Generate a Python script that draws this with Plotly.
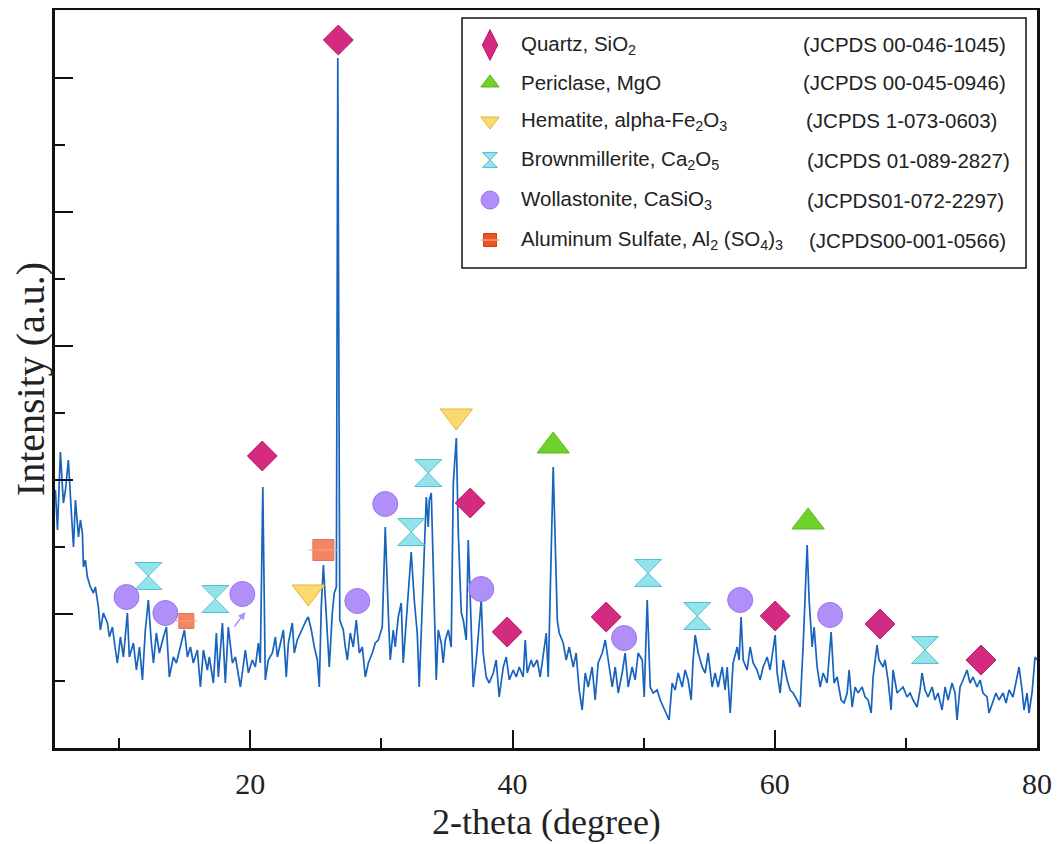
import plotly.graph_objects as go

# ---------------- data ----------------
two_theta = [5.13, 5.29, 5.51, 5.74, 5.90, 6.12, 6.35, 6.51, 6.66, 6.89, 7.04, 7.19, 7.27, 7.42, 7.57, 7.80,
             8.03, 8.18, 8.41, 8.56, 8.79, 9.10, 9.25, 9.48, 9.71, 9.86, 10.09, 10.32, 10.62, 10.77, 11.08,
             11.31, 11.54, 11.77, 11.99, 12.22, 12.45, 12.61, 12.83, 13.06, 13.37, 13.60, 13.82, 14.13, 14.36,
             14.66, 14.97, 15.20, 15.43, 15.65, 15.96, 16.19, 16.42, 16.72, 16.87, 17.18, 17.41, 17.56, 17.87,
             18.09, 18.32, 18.63, 18.86, 19.24, 19.62, 19.85, 20.15, 20.38, 20.61, 20.76, 20.95, 21.14, 21.37,
             21.68, 21.91, 22.06, 22.29, 22.52, 22.74, 22.90, 23.20, 23.35, 23.58, 23.81, 24.04, 24.27, 24.42,
             24.65, 24.88, 25.11, 25.26, 25.41, 25.57, 25.72, 25.87, 26.02, 26.25, 26.40, 26.56, 26.67, 26.82,
             27.09, 27.24, 27.40, 27.62, 27.85, 28.08, 28.31, 28.54, 28.77, 29.00, 29.30, 29.53, 29.76, 30.06,
             30.29, 30.52, 30.67, 30.90, 31.05, 31.28, 31.51, 31.66, 31.97, 32.12, 32.27, 32.50, 32.73, 32.88,
             33.11, 33.27, 33.42, 33.57, 33.65, 33.80, 33.95, 34.18, 34.33, 34.56, 34.71, 34.87, 35.10, 35.32,
             35.48, 35.71, 35.86, 36.09, 36.24, 36.47, 36.62, 36.85, 37.00, 37.23, 37.38, 37.61, 37.76, 37.99,
             38.22, 38.53, 38.75, 38.98, 39.29, 39.52, 39.75, 40.05, 40.28, 40.51, 40.81, 40.97, 41.12, 41.42,
             41.58, 41.88, 42.11, 42.34, 42.57, 42.72, 42.95, 43.10, 43.25, 43.41, 43.56, 43.86, 44.09, 44.32,
             44.63, 44.85, 45.08, 45.31, 45.54, 45.77, 46.07, 46.30, 46.53, 46.84, 47.07, 47.29, 47.60, 47.83,
             48.06, 48.36, 48.59, 48.82, 49.12, 49.35, 49.58, 49.89, 50.04, 50.27, 50.50, 50.72, 51.03, 51.26,
             51.49, 51.72, 51.94, 52.17, 52.40, 52.63, 52.94, 53.16, 53.39, 53.62, 53.77, 53.93, 54.16, 54.46,
             54.69, 54.92, 55.22, 55.45, 55.68, 55.99, 56.21, 56.37, 56.60, 56.82, 57.13, 57.28, 57.43, 57.59,
             57.89, 58.12, 58.35, 58.65, 58.88, 59.11, 59.42, 59.64, 59.87, 60.03, 60.18, 60.41, 60.64, 60.94,
             61.17, 61.40, 61.70, 61.93, 62.16, 62.31, 62.47, 62.62, 62.85, 63.00, 63.23, 63.46, 63.69, 63.99,
             64.30, 64.52, 64.75, 65.06, 65.29, 65.52, 65.67, 65.90, 66.13, 66.35, 66.66, 66.89, 67.12, 67.35,
             67.50, 67.80, 67.95, 68.26, 68.41, 68.64, 68.87, 69.02, 69.33, 69.56, 69.78, 70.09, 70.32, 70.55,
             70.85, 71.08, 71.23, 71.46, 71.69, 72.00, 72.22, 72.45, 72.76, 72.99, 73.22, 73.52, 73.75, 73.90,
             74.13, 74.36, 74.66, 74.89, 75.12, 75.43, 75.66, 75.88, 76.19, 76.34, 76.65, 76.87, 77.10, 77.41,
             77.64, 77.87, 78.17, 78.40, 78.63, 78.86, 79.01, 79.24, 79.39, 79.62, 79.85, 80.00]

intensity = [258, 218, 296, 245, 258, 288, 235, 201, 248, 211, 228, 215, 181, 188, 171, 161,
             155, 161, 141, 118, 135, 125, 111, 121, 98, 85, 111, 91, 135, 91, 105,
             78, 101, 68, 118, 148, 105, 85, 115, 95, 111, 121, 71, 91, 85,
             101, 118, 91, 101, 85, 98, 61, 98, 78, 91, 65, 115, 71, 125,
             65, 121, 85, 91, 61, 98, 75, 88, 81, 105, 85, 261, 68, 88,
             95, 111, 91, 105, 118, 71, 105, 125, 95, 108, 115, 121, 128, 131,
             118, 101, 88, 61, 141, 183, 148, 115, 81, 135, 155, 161, 690, 128,
             118, 101, 88, 115, 101, 128, 95, 101, 71, 85, 95, 105, 108, 121,
             221, 135, 88, 118, 101, 131, 145, 85, 141, 161, 196, 148, 115, 61,
             141, 215, 251, 221, 248, 255, 181, 68, 118, 105, 85, 108, 118, 101,
             265, 310, 215, 135, 128, 108, 208, 108, 61, 88, 115, 148, 95, 71,
             65, 75, 88, 51, 81, 91, 68, 78, 71, 81, 71, 108, 75, 88,
             81, 88, 71, 95, 115, 71, 215, 281, 208, 128, 115, 105, 88, 101,
             81, 95, 58, 38, 75, 61, 81, 48, 85, 95, 108, 88, 61, 81,
             55, 75, 95, 61, 81, 68, 95, 88, 51, 148, 61, 55, 58, 48,
             41, 35, 28, 65, 58, 75, 61, 78, 68, 48, 88, 113, 95, 81,
             75, 95, 61, 75, 61, 81, 58, 81, 35, 85, 101, 88, 131, 88,
             78, 101, 85, 78, 68, 81, 91, 78, 98, 113, 75, 55, 88, 68,
             58, 55, 48, 41, 101, 148, 203, 148, 101, 121, 81, 61, 75, 65,
             116, 65, 71, 48, 45, 55, 78, 41, 61, 55, 61, 51, 48, 35,
             71, 103, 88, 81, 88, 68, 38, 78, 55, 58, 61, 51, 55, 48,
             41, 58, 75, 58, 51, 61, 48, 55, 38, 61, 48, 65, 55, 28,
             61, 68, 78, 65, 71, 61, 68, 55, 51, 35, 48, 55, 48, 55,
             45, 58, 51, 68, 81, 58, 38, 55, 35, 55, 91, 88]

# phase identification markers (2-theta, intensity level of the symbol)
quartz_x = [26.71, 20.91, 36.77, 39.59, 47.14, 60.03, 68.03, 75.73]
quartz_y = [708, 292, 245, 116, 131, 132, 124, 88]
periclase_x = [43.10, 62.54]
periclase_y = [302, 226]
hematite_x = [35.71, 24.42]
hematite_y = [332, 156]
brown_x = [12.22, 17.33, 33.57, 32.27, 50.34, 54.08, 71.46]
brown_y = [172, 149, 275, 216, 175, 132, 98]
woll_x = [10.55, 13.52, 19.39, 28.16, 30.29, 37.61, 48.51, 57.36, 64.22]
woll_y = [151, 135, 154, 147, 244, 159, 110, 148, 133]
alsulf_x = [25.57, 15.12]
alsulf_y = [198, 127]
alsulf_size = [21, 15]

phase_names = ["Quartz, SiO<sub>2</sub>", "Periclase, MgO", "Hematite, alpha-Fe<sub>2</sub>O<sub>3</sub>",
               "Brownmillerite, Ca<sub>2</sub>O<sub>5</sub>", "Wollastonite, CaSiO<sub>3</sub>",
               "Aluminum Sulfate, Al<sub>2</sub> (SO<sub>4</sub>)<sub>3</sub>"]
jcpds = ["(JCPDS 00-046-1045)", "(JCPDS 00-045-0946)", "(JCPDS 1-073-0603)",
         "(JCPDS 01-089-2827)", "(JCPDS01-072-2297)", "(JCPDS00-001-0566)"]

# ---------------- styles ----------------
C_Q = "#d42a80"; C_Q_L = "#b81d69"
C_P = "#6fd12a"; C_P_L = "#5cb81c"
C_H = "#fcd96e"; C_H_L = "#e2b23a"
C_B = "#95e3ea"; C_B_L = "#4fc2cf"
C_W = "#b18ff9"; C_W_L = "#9a72ef"
C_A = "#ef5223"; C_A_L = "#d23c12"

fig = go.Figure()
fig.add_trace(go.Scatter(x=two_theta, y=intensity, mode="lines",
                         line=dict(color="#1763bd", width=1.7), showlegend=False, hoverinfo="skip"))

def mk(x, y, sym, color, lcolor, size, xa="x", ya="y"):
    fig.add_trace(go.Scatter(x=x, y=y, mode="markers", xaxis=xa, yaxis=ya, showlegend=False,
                             marker=dict(symbol=sym, color=color, size=size,
                                         line=dict(color=lcolor, width=1))))

mk(quartz_x, quartz_y, "diamond", C_Q, C_Q_L, 23)
mk(periclase_x, periclase_y, "triangle-up", C_P, C_P_L, 28)
mk(hematite_x, hematite_y, "triangle-down", C_H, C_H_L, 28)
mk(brown_x, brown_y, "hourglass", C_B, C_B_L, 27)
mk(woll_x, woll_y, "circle", C_W, C_W_L, 25)
mk(alsulf_x, alsulf_y, "square", C_A, C_A_L, alsulf_size)
fig.add_trace(go.Scatter(x=alsulf_x, y=alsulf_y, mode="markers", showlegend=False,
                         marker=dict(symbol="line-ew", size=alsulf_size,
                                     line=dict(color="#f7a27f", width=1.5))))

# small arrow pointing to wollastonite reflection
fig.add_annotation(x=19.62, y=136, ax=18.70, ay=120, xref="x", yref="y", axref="x", ayref="y",
                   text="", showarrow=True, arrowhead=2, arrowsize=1, arrowwidth=1.5, arrowcolor=C_W)

# ---------------- custom legend ----------------
L_x0, L_x1, L_y0, L_y1 = 0.4145, 0.9888, 0.6504, 0.9892
fig.add_shape(type="rect", xref="paper", yref="paper", x0=L_x0, x1=L_x1, y0=L_y0, y1=L_y1,
              line=dict(color="#111", width=1.5), fillcolor="white", layer="below")
row_y = [0.9526, 0.9011, 0.8496, 0.7967, 0.7425, 0.6883]
sym_x = 0.443
leg_syms = [("diamond-tall", C_Q, C_Q_L, 22), ("triangle-up", C_P, C_P_L, 16),
            ("triangle-down", C_H, C_H_L, 16), ("hourglass", C_B, C_B_L, 15),
            ("circle", C_W, C_W_L, 18), ("square", C_A, C_A_L, 13)]
for (s, c, lc, sz), yy in zip(leg_syms, row_y):
    mk([sym_x], [yy], s, c, lc, sz, xa="x2", ya="y2")
fig.add_trace(go.Scatter(x=[sym_x], y=[row_y[5]], mode="markers", xaxis="x2", yaxis="y2", showlegend=False,
                         marker=dict(symbol="line-ew", size=13, line=dict(color="#f7a27f", width=1.5))))
jc_x = [0.7597, 0.7597, 0.7627, 0.7637, 0.7637, 0.7658]
for name, code, yy, jx in zip(phase_names, jcpds, row_y, jc_x):
    fig.add_annotation(x=0.4725, y=yy, xref="paper", yref="paper", text=name, showarrow=False,
                       xanchor="left", yanchor="middle",
                       font=dict(family="Liberation Sans, Arial", size=20.5, color="#222"))
    fig.add_annotation(x=jx, y=yy, xref="paper", yref="paper", text=code, showarrow=False,
                       xanchor="left", yanchor="middle",
                       font=dict(family="Liberation Sans, Arial", size=20.5, color="#222"))

serif = "Liberation Serif, Times New Roman, serif"

# x-axis title placed as annotation just above the bottom edge
fig.add_annotation(x=0.5, y=-0.1295, xref="paper", yref="paper", text="2-theta (degree)",
                   showarrow=False, xanchor="center", yanchor="bottom",
                   font=dict(family=serif, size=36, color="#222"))

fig.update_layout(
    width=1056, height=836,
    margin=dict(l=47, r=27, t=2, b=96),
    paper_bgcolor="white", plot_bgcolor="white",
    showlegend=False,
    xaxis=dict(range=[5.1, 80], tick0=0, dtick=20, ticks="inside", ticklen=18, tickwidth=2,
               tickcolor="#111", showline=True, linecolor="#111", linewidth=2.5, mirror=True,
               showgrid=False, zeroline=False, ticklabelstandoff=7, automargin=False,
               tickfont=dict(family=serif, size=30, color="#222"),
               minor=dict(dtick=10, ticks="inside", ticklen=10, tickwidth=2, tickcolor="#111", showgrid=False)),
    yaxis=dict(range=[0, 738], tick0=0, dtick=134, ticks="inside", ticklen=18, tickwidth=2,
               tickcolor="#111", showline=True, linecolor="#111", linewidth=2.5, mirror=True,
               showgrid=False, zeroline=False, showticklabels=False, automargin=False,
               minor=dict(dtick=67, ticks="inside", ticklen=10, tickwidth=2, tickcolor="#111", showgrid=False),
               title=dict(text="Intensity (a.u.)", font=dict(family=serif, size=40, color="#222"), standoff=0)),
    xaxis2=dict(overlaying="x", range=[0, 1], visible=False, anchor="y2", automargin=False),
    yaxis2=dict(overlaying="y", range=[0, 1], visible=False, anchor="x2", automargin=False),
)

fig.write_html("out.html")
